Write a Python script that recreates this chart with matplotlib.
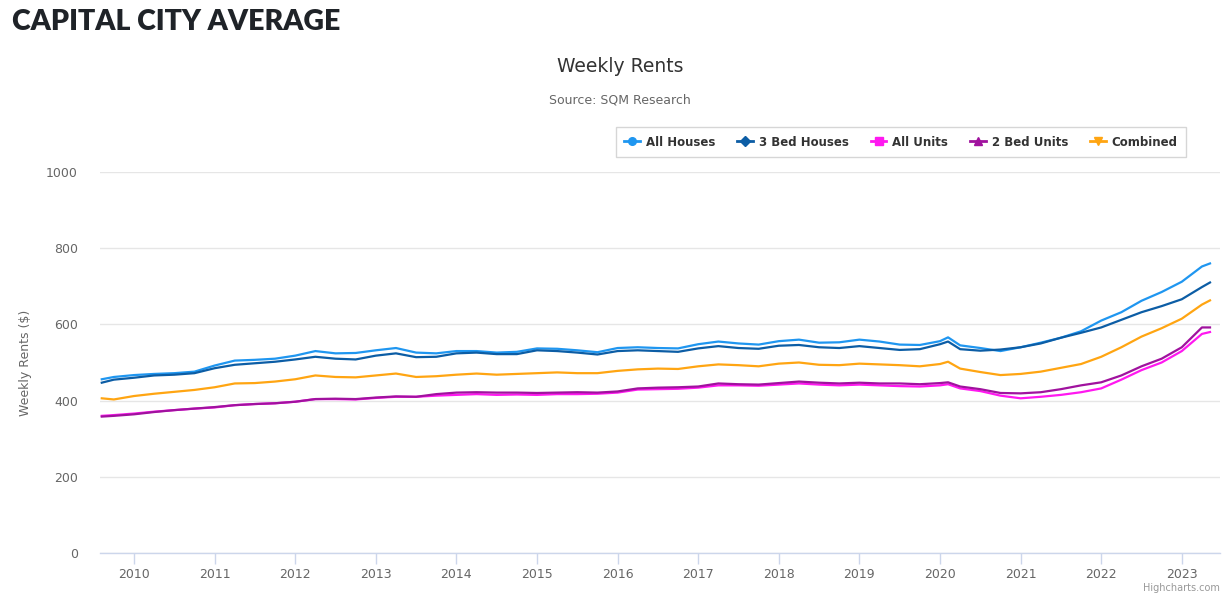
import matplotlib
matplotlib.use("Agg")
import matplotlib.pyplot as plt
from matplotlib.lines import Line2D

# ---- data (decimal year, weekly rent $) ----
years = [2009.6, 2009.75, 2010.0, 2010.25, 2010.5, 2010.75, 2011.0, 2011.25, 2011.5, 2011.75,
         2012.0, 2012.25, 2012.5, 2012.75, 2013.0, 2013.25, 2013.5, 2013.75, 2014.0, 2014.25,
         2014.5, 2014.75, 2015.0, 2015.25, 2015.5, 2015.75, 2016.0, 2016.25, 2016.5, 2016.75,
         2017.0, 2017.25, 2017.5, 2017.75, 2018.0, 2018.25, 2018.5, 2018.75, 2019.0, 2019.25,
         2019.5, 2019.75, 2020.0, 2020.1, 2020.25, 2020.5, 2020.75, 2021.0, 2021.25, 2021.5,
         2021.75, 2022.0, 2022.25, 2022.5, 2022.75, 2023.0, 2023.25, 2023.35]

all_houses = [456, 462, 467, 470, 472, 476, 492, 505, 507, 510,
              518, 530, 524, 525, 532, 538, 526, 524, 530, 530,
              526, 528, 537, 536, 532, 527, 538, 540, 538, 537,
              548, 555, 550, 547, 556, 560, 552, 553, 560, 555,
              547, 546, 556, 566, 545, 538, 530, 540, 552, 565,
              582, 610, 632, 662, 685, 712, 752, 760]

bed3_houses = [447, 455, 460, 466, 468, 472, 485, 494, 498, 502,
               508, 515, 510, 508, 518, 524, 514, 515, 524, 526,
               522, 522, 532, 530, 526, 521, 530, 532, 530, 528,
               537, 543, 538, 536, 544, 546, 540, 538, 543, 538,
               533, 535, 548, 555, 535, 531, 534, 540, 550, 565,
               578, 592, 612, 632, 648, 666, 698, 710]

all_units = [360, 362, 366, 371, 375, 379, 382, 388, 391, 393,
             397, 404, 404, 403, 407, 410, 410, 413, 415, 417,
             415, 416, 415, 417, 417, 418, 421, 429, 430, 431,
             434, 440, 440, 439, 442, 445, 442, 440, 442, 440,
             438, 437, 440, 443, 432, 425, 413, 406, 410, 415,
             422, 432, 455, 480, 500, 530, 575, 580]

bed2_units = [358, 360, 364, 370, 375, 379, 383, 388, 391, 393,
              397, 404, 405, 404, 408, 411, 410, 417, 421, 422,
              421, 421, 420, 421, 422, 421, 424, 432, 434, 435,
              437, 445, 443, 442, 446, 450, 447, 445, 447, 445,
              445, 443, 446, 448, 437, 430, 420, 419, 422, 430,
              440, 448, 466, 490, 510, 540, 592, 592]

combined = [406, 403, 412, 418, 423, 428, 435, 445, 446, 450,
            456, 466, 462, 461, 466, 471, 462, 464, 468, 471,
            468, 470, 472, 474, 472, 472, 478, 482, 484, 483,
            490, 495, 493, 490, 497, 500, 494, 493, 497, 495,
            493, 490, 496, 502, 484, 475, 467, 470, 476, 486,
            496, 515, 540, 568, 590, 615, 652, 663]

series_names = ["All Houses", "3 Bed Houses", "All Units", "2 Bed Units", "Combined"]
series_values = [all_houses, bed3_houses, all_units, bed2_units, combined]
series_colors = ["#1f96f0", "#0c5da5", "#ff18f0", "#a0129e", "#ffa512"]
series_markers = ["o", "D", "s", "^", "v"]
draw_order = [4, 2, 3, 0, 1]

year_ticks = list(range(2010, 2024))
y_ticks = [0, 200, 400, 600, 800, 1000]

W, H = 1227, 597
fig = plt.figure(figsize=(W / 100, H / 100), dpi=100)
ax = fig.add_axes([100 / W, 1 - 553 / H, 1120 / W, 381 / H])

for i in draw_order:
    ax.plot(years, series_values[i], color=series_colors[i], lw=1.6,
            solid_joinstyle="round", zorder=3)

ax.set_xlim(2009.578, 2023.474)
ax.set_ylim(0, 1000)
ax.set_yticks(y_ticks)
ax.set_yticklabels([str(v) for v in y_ticks])
ax.set_xticks(year_ticks)
ax.set_xticklabels([str(y) for y in year_ticks])
ax.grid(axis="y", color="#e6e6e6", lw=1)
ax.set_axisbelow(True)
for s in ["top", "right", "left"]:
    ax.spines[s].set_visible(False)
ax.spines["bottom"].set_color("#ccd6eb")
ax.spines["bottom"].set_linewidth(1)
ax.tick_params(axis="x", colors="#ccd6eb", length=8, width=1, labelcolor="#666666",
               labelsize=9, pad=3)
ax.tick_params(axis="y", length=0, labelcolor="#666666", labelsize=9, pad=16)
ax.set_ylabel("Weekly Rents ($)", color="#666666", fontsize=9, labelpad=10)

fig.text(12 / W, 1 - 22 / H, "CAPITAL CITY AVERAGE", fontsize=20.5, fontweight="heavy",
         family=["Lato", "DejaVu Sans"], color="#1f2328", va="center", ha="left")
fig.text(620 / W, 1 - 66 / H, "Weekly Rents", fontsize=13.5, color="#333333",
         ha="center", va="center")
fig.text(620 / W, 1 - 100 / H, "Source: SQM Research", fontsize=9, color="#666666",
         ha="center", va="center")
fig.text(1220 / W, 1 - 588 / H, "Highcharts.com", fontsize=7, color="#999999",
         ha="right", va="center")

handles = [Line2D([0], [0], color=c, lw=2, marker=m, markersize=5.5)
           for c, m in zip(series_colors, series_markers)]
leg = fig.legend(handles, series_names, loc="center", ncol=5,
                 bbox_to_anchor=(901 / W, 1 - 142 / H), frameon=True, fancybox=False,
                 handlelength=1.3, handletextpad=0.5, columnspacing=1.9,
                 borderpad=0.7, prop={"size": 8.5, "weight": "bold"})
leg.get_frame().set_edgecolor("#cccccc")
leg.get_frame().set_linewidth(1)
for t in leg.get_texts():
    t.set_color("#333333")

fig.savefig("out.png", dpi=100)
